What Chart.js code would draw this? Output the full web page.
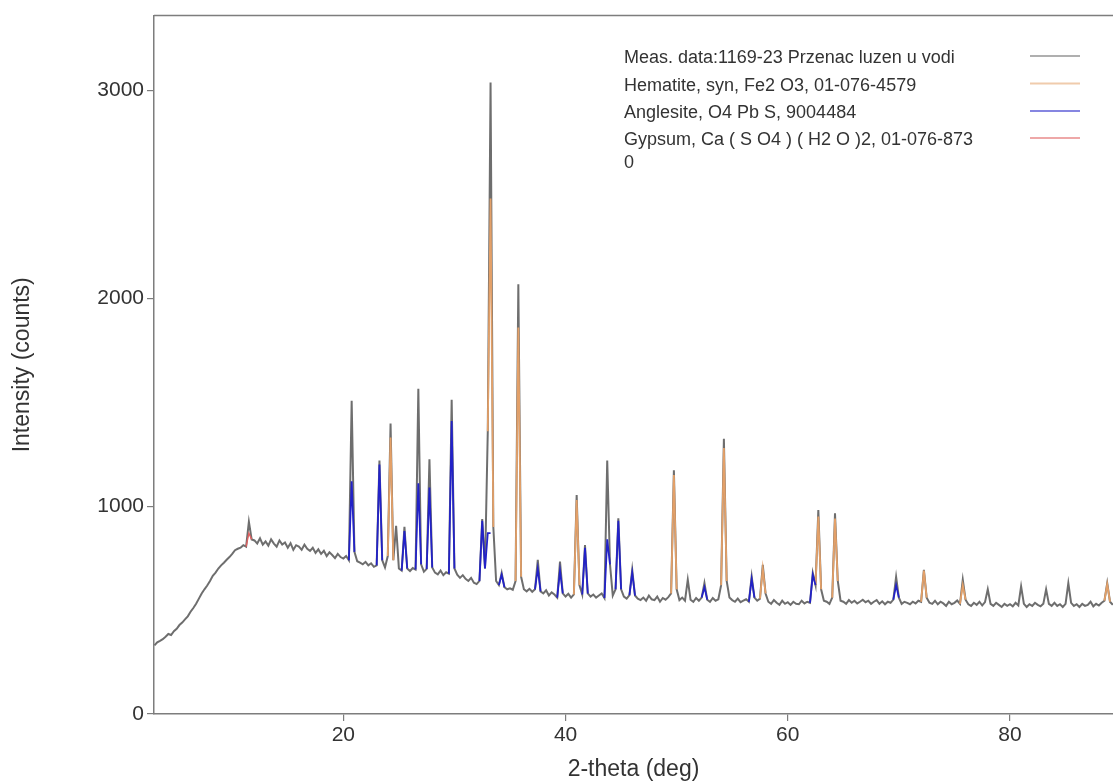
<!DOCTYPE html>
<html>
<head>
<meta charset="utf-8">
<title>XRD pattern</title>
<script src="https://cdn.jsdelivr.net/npm/chart.js@4.4.1/dist/chart.umd.min.js"></script>
<style>
  html, body { margin: 0; padding: 0; background: #fff; }
  #wrap { width: 1113px; height: 784px; }
</style>
</head>
<body>
<div id="wrap"><canvas id="xrd" width="1113" height="784"></canvas></div>
<script>
// measured pattern, one value every 0.25 deg starting at 3.00 deg
var startAngle = 3;
var stepAngle = 0.25;
var measCounts = [
  330, 345, 352, 360,   372, 385, 380, 398,   410, 428, 440, 455,   470, 492, 510, 530,
  555, 580, 600, 618,   640, 665, 680, 700,   715, 728, 742, 755,   770, 788, 795, 800,
  812, 805, 925, 840,   835, 820, 845, 815,   830, 810, 840, 820,   805, 835, 815, 825,
  800, 822, 790, 812,   805, 790, 815, 795,   785, 800, 775, 792,   770, 785, 760, 778,
  765, 750, 770, 755,   748, 760, 740, 1507,  780, 735, 728, 720,   732, 715, 725, 708,
  715, 1220, 740, 705,  760, 1397, 740, 905,  700, 690, 900, 700,   688, 702, 695, 1565,
  720, 685, 698, 1225,  705, 680, 672, 690,   668, 682, 675, 1512,  700, 670, 655, 668,
  650, 640, 655, 632,   625, 640, 938, 700,   1360, 3038, 900, 640, 620, 679, 610, 600,
  605, 598, 640, 2067,  660, 600, 590, 602,   588, 600, 742, 590,   580, 595, 570, 585,
  575, 560, 733, 580,   565, 578, 560, 575,   1053, 620, 575, 813,  580, 565, 575, 560,
  570, 580, 558, 1220,  720, 570, 600, 942,   600, 565, 555, 572,   694, 570, 555, 548,
  560, 545, 570, 552,   548, 565, 540, 558,   550, 562, 580, 1172,  600, 548, 560, 545,
  646, 550, 540, 558,   545, 560, 630, 550,   540, 558, 545, 552,   620, 1324, 640, 560,
  548, 540, 555, 538,   545, 552, 540, 662,   560, 545, 555, 718,   580, 540, 530, 548,
  535, 525, 545, 530,   538, 525, 540, 530,   528, 545, 532, 540,   535, 679, 620, 981,
  600, 545, 540, 530,   560, 966, 640, 545,   540, 530, 548, 535,   545, 532, 540, 550,
  538, 545, 530, 540,   548, 530, 542, 528,   540, 535, 550, 660,   560, 530, 540, 535,
  528, 540, 532, 545,   540, 694, 560, 535,   530, 545, 528, 540,   532, 520, 540, 528,
  535, 546, 530, 646,   550, 528, 520, 535,   525, 540, 522, 538,   600, 530, 520, 535,
  525, 515, 530, 520,   528, 518, 535, 522,   614, 530, 515, 528,   520, 535, 525, 518,
  530, 600, 530, 520,   535, 520, 528, 515,   530, 630, 535, 520,   528, 515, 530, 520,
  525, 540, 518, 530,   522, 535, 545, 630,   540, 525
];

// phase profiles (calculated peak tops)
var hematiteAngles = [24.25, 33.25, 35.75, 41.0, 49.75, 54.25, 57.75, 62.75, 64.25, 72.25, 75.75, 88.75];
var hematiteCounts = [1330, 2480, 1860, 1030, 1150, 1280, 700, 950, 940, 690, 620, 625];

var anglesiteAngles = [20.75, 23.25, 25.5, 26.75, 27.75, 29.75, 32.5, 33.0, 34.25, 37.5, 39.5, 41.75, 43.75, 44.75, 46.0, 52.5, 56.75, 62.25, 69.75];
var anglesiteCounts = [1120, 1200, 880, 1110, 1090, 1410, 930, 870, 670, 700, 690, 800, 840, 930, 680, 610, 650, 670, 620];

var gypsumAngles = [11.5];
var gypsumCounts = [870];

var legendLabels = [
  ["Meas. data:1169-23 Przenac luzen u vodi"],
  ["Hematite, syn, Fe2 O3, 01-076-4579"],
  ["Anglesite, O4 Pb S, 9004484"],
  ["Gypsum, Ca ( S O4 ) ( H2 O )2, 01-076-873", "0"]
];
var xTickValues = [20, 40, 60, 80];
var yTickValues = [0, 1000, 2000, 3000];

var measPoints = measCounts.map(function (c, i) {
  return { x: startAngle + i * stepAngle, y: c };
});

function phasePoints(angles, counts) {
  var pts = [];
  for (var k = 0; k < angles.length; k++) {
    var i = Math.round((angles[k] - startAngle) / stepAngle);
    var h = counts[k];
    pts.push({ x: angles[k] - stepAngle, y: Math.min(measCounts[i - 1], h) });
    pts.push({ x: angles[k], y: h });
    pts.push({ x: angles[k] + stepAngle, y: Math.min(measCounts[i + 1], h) });
    pts.push({ x: angles[k] + stepAngle + 0.01, y: null });
  }
  return pts;
}

var axisColor = "#7d7d7d";
var textColor = "#333333";
var fontFamily = "'Liberation Sans', Arial, sans-serif";

// legend drawn inside the plot, text left and line sample right
var legendPlugin = {
  id: "xrdLegend",
  afterDraw: function (chart) {
    var ctx = chart.ctx;
    var rows = [58, 86, 113, 140];
    var lineY = [56, 83.5, 111, 138];
    ctx.save();
    ctx.font = "18px " + fontFamily;
    ctx.fillStyle = textColor;
    ctx.textBaseline = "middle";
    ctx.textAlign = "left";
    for (var i = 0; i < legendLabels.length; i++) {
      for (var j = 0; j < legendLabels[i].length; j++) {
        ctx.fillText(legendLabels[i][j], 624, rows[i] + j * 23);
      }
      ctx.globalAlpha = 0.55;
      ctx.strokeStyle = chart.data.datasets[i].borderColor;
      ctx.lineWidth = 2;
      ctx.beginPath();
      ctx.moveTo(1030, lineY[i]);
      ctx.lineTo(1080, lineY[i]);
      ctx.stroke();
      ctx.globalAlpha = 1;
    }
    // top frame line
    var a = chart.chartArea;
    ctx.strokeStyle = axisColor;
    ctx.lineWidth = 1.5;
    ctx.beginPath();
    ctx.moveTo(a.left, a.top);
    ctx.lineTo(a.right, a.top);
    ctx.stroke();
    ctx.restore();
  }
};

new Chart(document.getElementById("xrd"), {
  type: "line",
  data: {
    datasets: [
      {
        label: "Meas. data",
        data: measPoints,
        borderColor: "#6e6e6e",
        borderWidth: 2,
        order: 10
      },
      {
        label: "Hematite",
        data: phasePoints(hematiteAngles, hematiteCounts),
        borderColor: "#e3a068",
        borderWidth: 1.8,
        spanGaps: false,
        order: 2
      },
      {
        label: "Anglesite",
        data: phasePoints(anglesiteAngles, anglesiteCounts),
        borderColor: "#2222c8",
        borderWidth: 1.8,
        spanGaps: false,
        order: 1
      },
      {
        label: "Gypsum",
        data: phasePoints(gypsumAngles, gypsumCounts),
        borderColor: "#e06060",
        borderWidth: 1.4,
        spanGaps: false,
        order: 0
      }
    ]
  },
  options: {
    responsive: false,
    animation: false,
    devicePixelRatio: 1,
    elements: { point: { radius: 0 }, line: { tension: 0 } },
    layout: { padding: { top: 13, right: 0, left: 0, bottom: 0 } },
    plugins: { legend: { display: false }, tooltip: { enabled: false } },
    scales: {
      x: {
        type: "linear",
        min: 2.96,
        max: 89.27,
        afterBuildTicks: function (s) { s.ticks = xTickValues.map(function (v) { return { value: v }; }); },
        afterFit: function (s) { s.height = 70; },
        border: { display: true, color: axisColor, width: 1.5 },
        grid: { display: true, drawOnChartArea: false, drawTicks: true, tickLength: 7, color: axisColor, lineWidth: 1.2 },
        ticks: {
          color: textColor,
          font: { family: fontFamily, size: 21 },
          padding: 2,
          maxRotation: 0,
          callback: function (v) { return String(v); }
        },
        title: {
          display: true,
          text: "2-theta (deg)",
          color: textColor,
          font: { family: fontFamily, size: 23 },
          padding: { top: 0, bottom: 1 }
        }
      },
      y: {
        type: "linear",
        min: 0,
        max: 3360,
        afterBuildTicks: function (s) { s.ticks = yTickValues.map(function (v) { return { value: v }; }); },
        afterFit: function (s) { s.width = 154; },
        border: { display: true, color: axisColor, width: 1.5 },
        grid: { display: true, drawOnChartArea: false, drawTicks: true, tickLength: 7, color: axisColor, lineWidth: 1.2 },
        ticks: {
          color: textColor,
          font: { family: fontFamily, size: 21 },
          padding: 3,
          callback: function (v) { return String(v); }
        },
        title: {
          display: true,
          text: "Intensity (counts)",
          color: textColor,
          font: { family: fontFamily, size: 23 },
          padding: { top: 9, bottom: 0 }
        }
      }
    }
  },
  plugins: [legendPlugin]
});
</script>
</body>
</html>
